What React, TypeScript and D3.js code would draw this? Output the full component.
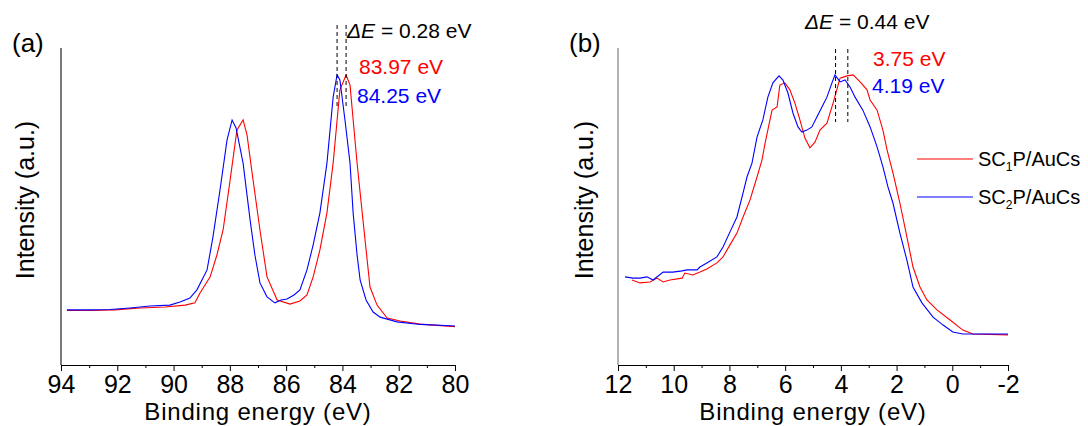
import React, { useRef, useEffect } from 'react';
import { select, scaleLinear, line, axisBottom, range } from 'd3';

// Au 4f region, [binding energy (eV), intensity (a.u.)]
const au4fSC1: [number, number][] = [
  [93.79, 17.2], [92.97, 17.2], [92.08, 17.4], [91.19, 18.0], [90.3, 18.3], [89.59, 18.9],
  [89.24, 19.6], [89.06, 22.7], [88.7, 27.8], [88.46, 34.7], [88.24, 42.6], [87.99, 58.4],
  [87.75, 74.1], [87.53, 77.3], [87.39, 72.6], [87.21, 60.6], [86.93, 42.6], [86.68, 27.8],
  [86.32, 20.5], [85.86, 19.2], [85.51, 20.2], [85.26, 22.1], [85.04, 27.8], [84.8, 36.3],
  [84.55, 48.0], [84.33, 63.7], [84.09, 86.8], [83.87, 91.5], [83.73, 88.3], [83.48, 63.7],
  [83.27, 45.7], [83.02, 24.6], [82.77, 18.9], [82.41, 14.8], [81.95, 13.9], [81.24, 12.9],
  [80.0, 12.1],
];
const au4fSC2: [number, number][] = [
  [93.79, 17.4], [92.97, 17.4], [92.26, 17.5], [91.55, 18.0], [90.84, 18.6], [90.13, 18.9],
  [89.77, 19.9], [89.42, 21.1], [89.17, 23.7], [88.81, 30.0], [88.6, 40.4], [88.35, 55.2],
  [88.1, 71.0], [87.92, 77.3], [87.78, 74.8], [87.53, 63.7], [87.28, 45.7], [87.11, 34.7],
  [86.93, 25.9], [86.68, 21.5], [86.4, 19.6], [86.18, 20.5], [85.97, 20.8], [85.72, 22.1],
  [85.51, 23.7], [85.26, 30.0], [85.04, 37.9], [84.8, 48.0], [84.55, 63.7], [84.33, 84.5],
  [84.19, 91.5], [84.09, 89.9], [83.91, 77.3], [83.73, 63.7], [83.62, 48.0], [83.48, 34.7],
  [83.37, 26.8], [83.16, 20.5], [82.91, 16.7], [82.66, 15.1], [82.06, 13.6], [81.24, 12.8],
  [80.0, 12.3],
];

// valence band region
const vbSC1: [number, number][] = [
  [11.5, 26.8], [11.21, 25.9], [10.85, 26.2], [10.6, 27.4], [10.38, 26.2], [10.13, 26.8],
  [9.7, 27.4], [9.6, 29.0], [9.31, 28.4], [9.06, 29.3], [8.81, 30.3], [8.45, 32.2],
  [8.23, 34.1], [7.98, 37.9], [7.73, 41.6], [7.51, 46.7], [7.26, 52.1], [7.01, 59.3],
  [6.83, 64.7], [6.72, 70.0], [6.47, 80.4], [6.29, 81.4], [6.19, 88.3], [6.01, 89.0],
  [5.83, 86.8], [5.65, 82.6], [5.47, 77.3], [5.29, 71.6], [5.11, 68.5], [4.93, 70.3],
  [4.75, 74.1], [4.5, 76.3], [4.28, 82.6], [4.03, 90.5], [3.78, 91.2], [3.56, 91.5],
  [3.31, 89.3], [3.06, 86.8], [2.95, 83.6], [2.7, 80.4], [2.49, 74.1], [2.34, 67.8],
  [2.13, 60.6], [1.88, 51.1], [1.63, 40.4], [1.41, 30.9], [1.16, 24.6], [0.91, 20.5],
  [0.55, 17.4], [0.08, 14.2], [-0.38, 11.0], [-0.74, 9.8], [-2.0, 9.5],
];
const vbSC2: [number, number][] = [
  [11.75, 27.8], [11.46, 27.4], [11.21, 27.4], [10.96, 27.8], [10.74, 26.8], [10.38, 29.3],
  [10.03, 29.3], [9.7, 29.7], [9.52, 30.0], [9.16, 30.0], [9.06, 30.9], [8.81, 32.2],
  [8.45, 34.1], [8.23, 37.2], [7.98, 42.0], [7.73, 46.7], [7.51, 54.3], [7.37, 59.3],
  [7.19, 63.7], [7.01, 71.9], [6.8, 77.3], [6.62, 84.5], [6.44, 89.0], [6.22, 91.2],
  [6.08, 89.9], [5.9, 85.8], [5.72, 79.5], [5.54, 75.1], [5.4, 73.5], [5.22, 74.1],
  [5.04, 75.1], [4.86, 78.2], [4.68, 81.4], [4.5, 84.5], [4.32, 89.0], [4.21, 91.5],
  [4.03, 89.3], [3.85, 89.9], [3.67, 87.7], [3.49, 84.5], [3.21, 80.4], [2.95, 75.1],
  [2.7, 68.8], [2.49, 62.5], [2.31, 56.2], [2.13, 51.1], [1.88, 41.6], [1.63, 33.1],
  [1.41, 24.6], [1.09, 19.6], [0.69, 15.1], [0.33, 12.6], [-0.02, 10.4], [-0.38, 9.8],
  [-0.74, 9.8], [-2.0, 9.8],
];

const au4fPeaks = [84.19, 83.87];
const vbPeaks = [4.19, 3.75];
const au4fLabels = ['83.97 eV', '84.25 eV'];
const vbLabels = ['3.75 eV', '4.19 eV'];
const deltaLabels = ['0.28 eV', '0.44 eV'];
const legendNames = ['1', '2'];

const RED = '#ff0000';
const BLUE = '#0000ff';
const FONT = '"Liberation Sans", Arial, sans-serif';

const App = () => {
  const svgRef = useRef<SVGSVGElement>(null);

  useEffect(() => {
    const svg = select(svgRef.current);
    svg.selectAll('*').remove();

    const y = scaleLinear().domain([0, 100]).range([365, 48]);

    const panels = [
      {
        tag: '(a)', tagX: 12, labelX: 34, domain: [94, 80], rng: [61, 455],
        red: au4fSC1, blue: au4fSC2, peaks: au4fPeaks, dash: [25, 108],
        delta: deltaLabels[0], deltaX: 347, deltaY: 38,
        redText: au4fLabels[0], redX: 359, redY: 74,
        blueText: au4fLabels[1], blueX: 357, blueY: 103, axisColor: '#222',
      },
      {
        tag: '(b)', tagX: 569, labelX: 593, domain: [12, -2], rng: [618, 1008],
        red: vbSC1, blue: vbSC2, peaks: vbPeaks, dash: [49, 122],
        delta: deltaLabels[1], deltaX: 805, deltaY: 29,
        redText: vbLabels[0], redX: 873, redY: 66,
        blueText: vbLabels[1], blueX: 872, blueY: 93, axisColor: '#808080',
      },
    ];

    panels.forEach(p => {
      const x = scaleLinear().domain(p.domain).range(p.rng);
      const g = svg.append('g').style('font-family', FONT);
      const lo = Math.min(p.domain[0], p.domain[1]);
      const hi = Math.max(p.domain[0], p.domain[1]);

      // minor ticks
      const minor = axisBottom(x)
        .tickValues(range(lo + 1, hi, 2))
        .tickSize(3).tickSizeOuter(0).tickFormat(() => '');
      g.append('g').attr('transform', 'translate(0,365)').call(minor)
        .call(s => s.select('.domain').remove());

      const major = axisBottom(x)
        .tickValues(range(lo, hi + 0.1, 2))
        .tickFormat(d => String(d))
        .tickSize(6).tickSizeOuter(0).tickPadding(4);
      const ax = g.append('g').attr('transform', 'translate(0,365)').call(major);
      ax.select('.domain').attr('stroke', '#000');
      ax.selectAll('text').attr('font-size', 25).attr('font-family', FONT).attr('fill', '#000');

      g.append('line')
        .attr('x1', p.rng[0]).attr('x2', p.rng[0])
        .attr('y1', y(100)).attr('y2', y(0))
        .attr('stroke', p.axisColor).attr('stroke-width', 1.2);

      g.append('text')
        .attr('x', (p.rng[0] + p.rng[1]) / 2).attr('y', 420)
        .attr('text-anchor', 'middle').attr('font-size', 24)
        .attr('letter-spacing', 0.8)
        .text('Binding energy (eV)');

      g.append('text')
        .attr('transform', `translate(${p.labelX},200) rotate(-90)`)
        .attr('text-anchor', 'middle').attr('font-size', 25)
        .text('Intensity (a.u.)');

      g.append('text').attr('x', p.tagX).attr('y', 52).attr('font-size', 26).text(p.tag);

      const ln = line<[number, number]>().x(d => x(d[0])).y(d => y(d[1]));
      g.append('path').datum(p.red).attr('d', ln)
        .attr('fill', 'none').attr('stroke', RED).attr('stroke-width', 1.1);
      g.append('path').datum(p.blue).attr('d', ln)
        .attr('fill', 'none').attr('stroke', BLUE).attr('stroke-width', 1.1);

      g.selectAll('.peak').data(p.peaks).join('line')
        .attr('class', 'peak')
        .attr('x1', d => x(d)).attr('x2', d => x(d))
        .attr('y1', p.dash[0]).attr('y2', p.dash[1])
        .attr('stroke', '#000').attr('stroke-width', 1).attr('stroke-dasharray', '4,3');

      const dt = g.append('text').attr('x', p.deltaX).attr('y', p.deltaY).attr('font-size', 21);
      dt.append('tspan').attr('font-style', 'italic').text('ΔE');
      dt.append('tspan').text(` = ${p.delta}`);

      g.append('text').attr('x', p.redX).attr('y', p.redY).attr('font-size', 21)
        .attr('fill', RED).text(p.redText);
      g.append('text').attr('x', p.blueX).attr('y', p.blueY).attr('font-size', 21)
        .attr('fill', BLUE).text(p.blueText);
    });

    // legend
    const lg = svg.append('g').style('font-family', FONT);
    [RED, BLUE].forEach((c, i) => {
      const ly = 159 + i * 38;
      lg.append('line').attr('x1', 917).attr('x2', 973).attr('y1', ly).attr('y2', ly)
        .attr('stroke', c).attr('stroke-width', 1.2);
      const t = lg.append('text').attr('x', 978).attr('y', ly + 7).attr('font-size', 20);
      t.append('tspan').text('SC');
      t.append('tspan').attr('font-size', 12).attr('dy', 5).text(legendNames[i]);
      t.append('tspan').attr('dy', -5).text('P/AuCs');
    });
  }, []);

  return (
    <svg ref={svgRef} width={1088} height={426}
      style={{ position: 'absolute', left: 0, top: 0, background: '#fff' }} />
  );
};

export default App;
